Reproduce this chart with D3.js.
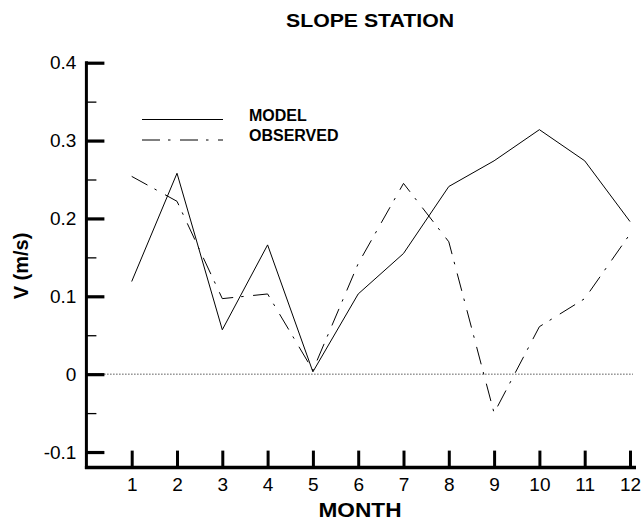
<!DOCTYPE html>
<html>
<head>
<meta charset="utf-8">
<script src="https://cdn.jsdelivr.net/npm/d3@7/dist/d3.min.js"></script>
<style>
  html, body { margin: 0; padding: 0; background: #fff; }
  svg { display: block; font-family: "Liberation Sans", Arial, Helvetica, sans-serif; }
</style>
</head>
<body>
<svg id="chart" width="643" height="521"></svg>
<script>
const months = [1, 2, 3, 4, 5, 6, 7, 8, 9, 10, 11, 12];
const modelValues = [0.119, 0.258, 0.057, 0.166, 0.003, 0.103, 0.155, 0.241, 0.274, 0.314, 0.274, 0.196];
const observedValues = [0.254, 0.222, 0.097, 0.103, 0.005, 0.142, 0.245, 0.170, -0.050, 0.061, 0.097, 0.180];
const yMajorTicks = [-0.1, 0, 0.1, 0.2, 0.3, 0.4];
const yMinorTicks = [-0.05, 0.05, 0.15, 0.25, 0.35];
const yTickLabels = ["-0.1", "0", "0.1", "0.2", "0.3", "0.4"];
const seriesNames = ["MODEL", "OBSERVED"];

const svg = d3.select("#chart");
const x = d3.scaleLinear().domain([0, 12]).range([86.4, 630]);
const y = d3.scaleLinear().domain([-0.12, 0.4]).range([467.6, 62.7]);

// title
svg.append("text").attr("x", 370).attr("y", 27).attr("text-anchor", "middle")
  .attr("font-weight", "bold").attr("font-size", 19)
  .attr("textLength", 168).attr("lengthAdjust", "spacingAndGlyphs").text("SLOPE STATION");

// zero dotted line
svg.append("line").attr("x1", x(0)).attr("x2", 633).attr("y1", y(0)).attr("y2", y(0))
  .attr("stroke", "#000").attr("stroke-width", 1).attr("stroke-dasharray", "1,2");

// Y axis major
const yAxis = d3.axisRight(y).tickValues(yMajorTicks).tickSize(18)
  .tickFormat((d, i) => yTickLabels[i]);
const gy = svg.append("g").attr("transform", `translate(${x(0)},0)`).call(yAxis);
gy.select(".domain").remove();
gy.selectAll(".tick line").attr("stroke", "#000").attr("stroke-width", 3.2);
gy.selectAll(".tick text").attr("x", -10).attr("text-anchor", "end")
  .attr("font-size", 19).attr("fill", "#000").attr("font-family", null);
// Y axis minor
const yAxisMinor = d3.axisRight(y).tickValues(yMinorTicks).tickSize(10).tickFormat("");
const gym = svg.append("g").attr("transform", `translate(${x(0)},0)`).call(yAxisMinor);
gym.select(".domain").remove();
gym.selectAll(".tick line").attr("stroke", "#000").attr("stroke-width", 1.3);

// X axis
const xAxis = d3.axisTop(x).tickValues(months).tickSize(17).tickFormat(d3.format("d"));
const gx = svg.append("g").attr("transform", `translate(0,${y(-0.12)})`).call(xAxis);
gx.select(".domain").remove();
gx.selectAll(".tick line").attr("stroke", "#000").attr("stroke-width", 3);
gx.selectAll(".tick text").attr("y", 23).attr("dy", null).attr("font-size", 19)
  .attr("fill", "#000").attr("font-family", null);

// axis lines
svg.append("line").attr("x1", x(0)).attr("x2", x(0)).attr("y1", y(0.4) - 1.5).attr("y2", y(-0.12) + 1.5)
  .attr("stroke", "#000").attr("stroke-width", 3);
svg.append("line").attr("x1", x(0) - 1.5).attr("x2", 636).attr("y1", y(-0.12)).attr("y2", y(-0.12))
  .attr("stroke", "#000").attr("stroke-width", 3.5);

// axis titles
svg.append("text").attr("x", 360).attr("y", 517).attr("text-anchor", "middle")
  .attr("font-weight", "bold").attr("font-size", 20)
  .attr("textLength", 83).attr("lengthAdjust", "spacingAndGlyphs").text("MONTH");
svg.append("text").attr("transform", "translate(28,266) rotate(-90)").attr("text-anchor", "middle")
  .attr("font-weight", "bold").attr("font-size", 20).text("V (m/s)");

// lines
const line = d3.line().x((d, i) => x(months[i])).y(d => y(d));
svg.append("path").datum(modelValues).attr("d", line).attr("fill", "none")
  .attr("stroke", "#000").attr("stroke-width", 1);
const dashDot = "18,8,2.5,9.5";
svg.append("path").datum(observedValues).attr("d", line).attr("fill", "none")
  .attr("stroke", "#000").attr("stroke-width", 1).attr("stroke-dasharray", dashDot);

// legend
const legY = [119.5, 140];
svg.append("line").attr("x1", 142).attr("x2", 223).attr("y1", legY[0]).attr("y2", legY[0])
  .attr("stroke", "#000").attr("stroke-width", 1);
svg.append("line").attr("x1", 142).attr("x2", 223).attr("y1", legY[1]).attr("y2", legY[1])
  .attr("stroke", "#000").attr("stroke-width", 1).attr("stroke-dasharray", dashDot);
seriesNames.forEach((n, i) => {
  svg.append("text").attr("x", 249).attr("y", legY[i] + 1).attr("font-weight", "bold")
    .attr("font-size", 16).text(n);
});
</script>
</body>
</html>
